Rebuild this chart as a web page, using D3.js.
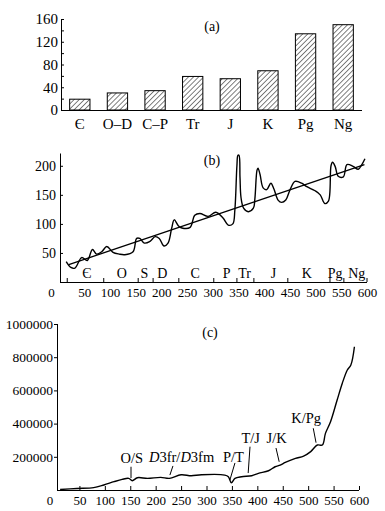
<!DOCTYPE html>
<html>
<head>
<meta charset="utf-8">
<script src="https://cdn.jsdelivr.net/npm/d3@7.9.0/dist/d3.min.js"></script>
<style>
  body { margin: 0; background: #fff; }
  svg { display: block; }
  svg text { font-family: "Liberation Serif", "Times New Roman", serif; fill: #000; }
  .axis path, .axis line { stroke: #000; stroke-width: 1; }
</style>
</head>
<body>
<svg id="chart" width="385" height="511"></svg>
<script>
// ---- (a) bars per period ----
const barCats = ['Є', 'O–D', 'C–P', 'Tr', 'J', 'K', 'Pg', 'Ng'];
const barVals = [19, 30, 34, 59, 55, 69, 134, 150];
const barTicks = [0, 40, 80, 120, 160];

// ---- (b) wavy curve + trend ----
const curveB = [
  [15, 35], [24, 25], [32, 24], [45, 42], [56, 37], [66, 56], [74, 48], [84, 52],
  [94, 61], [106, 51], [118, 48], [129, 47], [145, 52], [152, 75], [158, 75],
  [167, 67], [178, 70], [188, 78], [196, 75], [205, 62], [213, 67], [220, 92],
  [225, 107], [233, 97], [240, 93], [256, 94], [265, 115], [275, 118], [291, 113],
  [306, 120], [320, 110], [330, 98], [339, 100], [343, 124], [347, 200], [349, 218],
  [351, 218], [353, 180], [355, 145], [360, 127], [369, 121], [379, 127], [382, 144],
  [386, 192], [388, 196], [392, 185], [398, 162], [405, 159], [413, 170], [419, 160],
  [427, 141], [434, 137], [442, 141], [450, 158], [460, 173], [473, 170], [483, 164],
  [499, 157], [509, 150], [518, 135], [525, 139], [530, 200], [533, 206], [538, 199],
  [544, 182], [554, 181], [561, 202], [573, 199], [583, 194], [590, 202], [596, 212]
];
const trendB = [[20, 30], [595, 202]];
const yTicksB = [50, 100, 150, 200];
const xTicks = [50, 100, 150, 200, 250, 300, 350, 400, 450, 500, 550, 600];
const periodNames = ['Є', 'O', 'S', 'D', 'C', 'P', 'Tr', 'J', 'K', 'Pg', 'Ng'];
const periodMids = [55, 123, 167, 202, 266, 327, 362, 418, 483, 538, 580];
const periodBounds = [17, 88, 155, 184, 234, 302, 347, 380, 446, 528, 555, 600];

// ---- (c) cumulative curve ----
const curveC = [
  [12, 3000], [45, 9000], [78, 14000], [98, 30000], [118, 50000], [134, 64000],
  [147, 70000], [154, 56000], [164, 74000], [184, 70000], [210, 76000], [227, 70000],
  [250, 92000], [270, 86000], [290, 92000], [336, 90000], [343, 80000], [349, 44000],
  [356, 70000], [369, 80000], [389, 86000], [402, 100000], [422, 116000], [435, 140000],
  [445, 150000], [455, 166000], [475, 190000], [491, 204000], [505, 231000],
  [518, 271000], [528, 271000], [534, 341000], [544, 411000], [557, 542000],
  [567, 642000], [577, 723000], [584, 753000], [591, 863000]
];
const yTicksC = [200000, 400000, 600000, 800000, 1000000];
const eventNames = ['O/S', 'D3fr/D3fm', 'P/T', 'T/J', 'J/K', 'K/Pg'];
const eventText = [[153, 191000], [251, 200000], [353, 200000], [387, 311000], [438, 311000], [496, 432000]];
const eventLeader = [
  [[151.5, 140000], [151.5, 72000]],
  [[234, 145000], [228, 90000]],
  [[356, 163000], [346, 60000]],
  [[385.6, 261000], [382, 102000]],
  [[436.7, 253000], [443, 170000]],
  [[510, 372000], [515.5, 285000]]
];

const SERIF = '"Liberation Serif", "Times New Roman", serif';
const svg = d3.select('#chart');
svg.append('rect').attr('width', 385).attr('height', 511).attr('fill', '#fff');

// hatch pattern
svg.append('defs').append('pattern')
  .attr('id', 'hatch').attr('patternUnits', 'userSpaceOnUse')
  .attr('width', 3.6).attr('height', 3.6)
  .attr('patternTransform', 'rotate(45)')
  .append('line').attr('x1', 0).attr('y1', 0).attr('x2', 0).attr('y2', 3.6)
  .attr('stroke', '#000').attr('stroke-width', 1);

// d3 axes set their own sans-serif font; replace it with the serif one
const serif = g => g.attr('font-family', SERIF).selectAll('text').attr('font-family', SERIF);

// ===== panel (a) =====
const xa = d3.scaleBand().domain(barCats).range([61, 362]).paddingInner(0.46).paddingOuter(0.23);
const ya = d3.scaleLinear().domain([0, 160]).range([110, 19]);

const gA = svg.append('g');
gA.selectAll('rect.bar').data(barVals).join('rect')
  .attr('class', 'bar')
  .attr('x', (d, i) => xa(barCats[i]))
  .attr('y', d => ya(d))
  .attr('width', xa.bandwidth())
  .attr('height', d => ya(0) - ya(d))
  .attr('fill', 'url(#hatch)')
  .attr('stroke', '#000').attr('stroke-width', 1);

gA.append('g').attr('class', 'axis')
  .attr('transform', `translate(61,0)`)
  .call(d3.axisLeft(ya).tickValues(d3.range(0, 161, 20)).tickSizeInner(-3).tickSizeOuter(0)
    .tickFormat(d => barTicks.includes(d) ? d : ''))
  .call(serif)
  .call(g => g.selectAll('text').attr('x', -3).attr('font-size', 15));

const axA = gA.append('g').attr('class', 'axis')
  .attr('transform', `translate(0,${ya(0)})`)
  .call(d3.axisBottom(xa).tickSize(0).tickSizeOuter(0))
  .call(serif)
  .call(g => g.selectAll('text').attr('dy', '1.05em').attr('font-size', 15));
axA.select('path').attr('d', `M61,0.5H362`);

gA.append('text').attr('x', 212).attr('y', 26).attr('dy', '0.35em')
  .attr('text-anchor', 'middle').attr('font-size', 14).text('(a)');

// ===== panel (b) =====
const xb = d3.scaleLinear().domain([0, 600]).range([58.5, 367]);
const yb = d3.scaleLinear().domain([0, 222]).range([282, 153]);
const gB = svg.append('g');

gB.append('g').attr('class', 'axis')
  .attr('transform', `translate(${xb(0) + 1.5},0)`)
  .call(d3.axisLeft(yb).tickValues(yTicksB).tickSizeInner(-3).tickSizeOuter(0))
  .call(serif)
  .call(g => g.selectAll('text').attr('x', -4).attr('font-size', 14));

const axB = gB.append('g').attr('class', 'axis')
  .attr('transform', `translate(0,${yb(0)})`)
  .call(d3.axisBottom(xb).tickValues(xTicks).tickSize(0).tickSizeOuter(0))
  .call(serif)
  .call(g => g.selectAll('text').attr('dy', '0.95em').attr('font-size', 13));
axB.select('path').attr('d', `M${xb(0) + 1.5},0.5H${xb(600)}`);
axB.append('text').attr('x', xb(0) - 7).attr('y', 3).attr('dy', '0.95em')
  .attr('text-anchor', 'middle').attr('font-size', 13).text('0');

gB.selectAll('line.bound').data(periodBounds).join('line')
  .attr('class', 'bound')
  .attr('x1', d => xb(d)).attr('x2', d => xb(d))
  .attr('y1', yb(0)).attr('y2', yb(0) - 4)
  .attr('stroke', '#000');
gB.selectAll('text.period').data(periodNames).join('text')
  .attr('class', 'period')
  .attr('x', (d, i) => xb(periodMids[i])).attr('y', yb(0) - 9).attr('dy', '0.35em')
  .attr('text-anchor', 'middle').attr('font-size', 14).text(d => d);

const lineB = d3.line().x(d => xb(d[0])).y(d => yb(d[1]));
gB.append('path').datum(curveB)
  .attr('d', lineB.curve(d3.curveCatmullRom.alpha(0.5)))
  .attr('fill', 'none').attr('stroke', '#000').attr('stroke-width', 1.4);
gB.append('path').datum(trendB)
  .attr('d', d3.line().x(d => xb(d[0])).y(d => yb(d[1])))
  .attr('fill', 'none').attr('stroke', '#000').attr('stroke-width', 1.3);

gB.append('text').attr('x', 212).attr('y', 160).attr('dy', '0.35em')
  .attr('text-anchor', 'middle').attr('font-size', 14).text('(b)');

// ===== panel (c) =====
const xc = d3.scaleLinear().domain([0, 600]).range([54, 359]);
const yc = d3.scaleLinear().domain([0, 1000000]).range([490, 324]);
const gC = svg.append('g');

const ayC = gC.append('g').attr('class', 'axis')
  .attr('transform', `translate(57,0)`)
  .call(d3.axisLeft(yc).tickValues(yTicksC).tickSizeInner(3).tickSizeOuter(0).tickFormat(d3.format('d')))
  .call(serif)
  .call(g => g.selectAll('text').attr('x', -4).attr('font-size', 13.5));
ayC.select('path').attr('d', `M0.5,${yc(0)}V${yc(1000000)}`);

const axC = gC.append('g').attr('class', 'axis')
  .attr('transform', `translate(0,${yc(0)})`)
  .call(d3.axisBottom(xc).tickValues(xTicks).tickSizeInner(-4).tickSizeOuter(0))
  .call(serif)
  .call(g => g.selectAll('text').attr('y', 6).attr('dy', '0.71em').attr('font-size', 13));
axC.select('path').attr('d', `M57,0.5H${xc(600)}`);
axC.append('text').attr('x', xc(0) - 4).attr('y', 6).attr('dy', '0.71em')
  .attr('text-anchor', 'middle').attr('font-size', 13).text('0');

gC.append('path').datum(curveC)
  .attr('d', d3.line().x(d => xc(d[0])).y(d => yc(d[1])).curve(d3.curveCatmullRom.alpha(0.5)))
  .attr('fill', 'none').attr('stroke', '#000').attr('stroke-width', 1.4);

gC.selectAll('line.leader').data(eventLeader).join('line')
  .attr('class', 'leader')
  .attr('x1', d => xc(d[0][0])).attr('y1', d => yc(d[0][1]))
  .attr('x2', d => xc(d[1][0])).attr('y2', d => yc(d[1][1]))
  .attr('stroke', '#000').attr('stroke-width', 1);

gC.selectAll('text.event').data(eventNames).join('text')
  .attr('class', 'event')
  .attr('x', (d, i) => xc(eventText[i][0])).attr('y', (d, i) => yc(eventText[i][1]))
  .attr('dy', '0.35em').attr('text-anchor', 'middle').attr('font-size', 14.5)
  .each(function (d) {
    const t = d3.select(this);
    if (d === 'D3fr/D3fm') {
      t.append('tspan').attr('font-style', 'italic').text('D');
      t.append('tspan').text('3fr/');
      t.append('tspan').attr('font-style', 'italic').text('D');
      t.append('tspan').text('3fm');
    } else {
      t.text(d);
    }
  });

gC.append('text').attr('x', 210).attr('y', 332).attr('dy', '0.35em')
  .attr('text-anchor', 'middle').attr('font-size', 14).text('(c)');
</script>
</body>
</html>
